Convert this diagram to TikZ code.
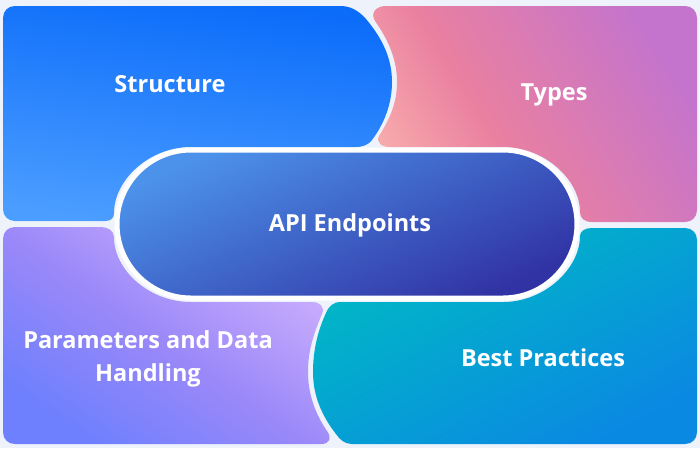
\documentclass[tikz,border=0pt]{standalone}
\usepackage{fontspec}
\setmainfont{Open Sans}
\definecolor{bg}{HTML}{EEF3FB}
\definecolor{sTop}{HTML}{0B6CFA}
\definecolor{sBot}{HTML}{4B9DFF}
\definecolor{tA}{HTML}{F7A9AB}
\definecolor{tB}{HTML}{EA80A0}
\definecolor{tC}{HTML}{C474CD}
\definecolor{pA}{HTML}{6E80FD}
\definecolor{pB}{HTML}{9A88F9}
\definecolor{pC}{HTML}{C8ACFC}
\definecolor{bTop}{HTML}{00BAC4}
\definecolor{bBot}{HTML}{0A89E2}
\definecolor{eTop}{HTML}{4C92EA}
\definecolor{eBot}{HTML}{3133A4}
\pgfdeclarehorizontalshading{typesSh}{100bp}{color(0bp)=(tA); color(25bp)=(tA); color(42bp)=(tB); color(75bp)=(tC); color(100bp)=(tC)}
\pgfdeclarehorizontalshading{paramSh}{100bp}{color(0bp)=(pA); color(25bp)=(pA); color(48bp)=(pB); color(72bp)=(pC); color(100bp)=(pC)}
\tikzset{
  lbl/.style={anchor=base, text=white, font=\bfseries\fontsize{23.5}{33}\selectfont, inner sep=0pt, align=center},
  pillstyle/.style={draw=white, line width=5pt, top color=eTop, bottom color=eBot, shading angle=25, rounded corners=74pt},
}
\begin{document}
\begin{tikzpicture}[x=1pt,y=-1pt]
\useasboundingbox (0,0) rectangle (700,448);
\fill[bg] (0,0) rectangle (700,448);
% Structure
\path[top color=sTop, bottom color=sBot, shading angle=-8]
  (15,6) -- (340,6) .. controls (350,6) and (358,10) .. (366,19)
  .. controls (382,38) and (392,58) .. (392,82)
  .. controls (392,104) and (384,124) .. (372,140)
  .. controls (368,145) and (363,147) .. (355,147) -- (191,147)
  .. controls (149,147) and (114,180) .. (114,213)
  .. controls (114,218) and (111,221) .. (105,221) -- (15,221)
  .. controls (8,221) and (3,216) .. (3,209) -- (3,18)
  .. controls (3,11) and (8,6) .. (15,6) -- cycle;
% Types
\path[shading=typesSh, shading angle=32]
  (386,6) -- (685,6) .. controls (692,6) and (697,11) .. (697,18) -- (697,210)
  .. controls (697,217) and (692,222) .. (685,222) -- (592,222)
  .. controls (584,222) and (580,218) .. (580,212)
  .. controls (580,180) and (545,147) .. (503,147) -- (390,147)
  .. controls (381,147) and (376,142) .. (379,136)
  .. controls (389,120) and (397,104) .. (397,82)
  .. controls (397,58) and (387,38) .. (375,21)
  .. controls (370,13) and (376,6) .. (386,6) -- cycle;
% Parameters
\path[shading=paramSh, shading angle=55]
  (15,227) -- (101,227) .. controls (108,227) and (114,231) .. (114,237)
  .. controls (114,270) and (149,302) .. (191,302) -- (312,302)
  .. controls (320,302) and (325,307) .. (322,314)
  .. controls (314,333) and (308,350) .. (308,372)
  .. controls (308,395) and (316,415) .. (327,431)
  .. controls (332,438) and (330,444) .. (321,444) -- (15,444)
  .. controls (8,444) and (3,439) .. (3,432) -- (3,239)
  .. controls (3,232) and (8,227) .. (15,227) -- cycle;
% Best Practices
\path[top color=bTop, bottom color=bBot, shading angle=28]
  (592,228) -- (685,228) .. controls (692,228) and (697,233) .. (697,240) -- (697,432)
  .. controls (697,439) and (692,444) .. (685,444) -- (352,444)
  .. controls (345,444) and (340,440) .. (336,434)
  .. controls (322,416) and (313,396) .. (313,372)
  .. controls (313,350) and (318,330) .. (326,313)
  .. controls (329,306) and (333,302) .. (341,302) -- (503,302)
  .. controls (545,302) and (580,268) .. (580,236)
  .. controls (580,231) and (585,228) .. (592,228) -- cycle;
% API pill
\path[pillstyle] (117,150) rectangle (577,298);
% labels
\node[lbl] (structure) at (170,92) {Structure};
\node[lbl] (types) at (554,100) {Types};
\node[lbl] (api) at (350,231) {API Endpoints};
\node[lbl] (params) at (148,381) {Parameters and Data\\Handling};
\node[lbl] (best) at (543,366) {Best Practices};
\end{tikzpicture}
\end{document}
